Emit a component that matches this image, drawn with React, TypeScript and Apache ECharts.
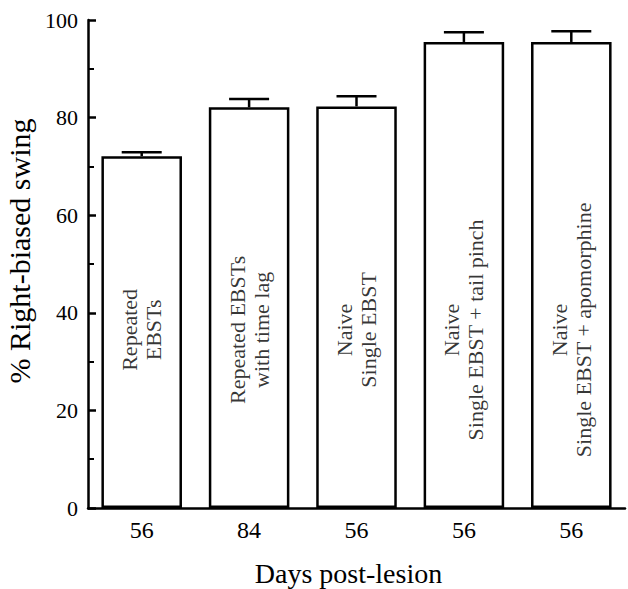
import React, { useEffect, useRef } from "react";
import * as echarts from "echarts";

const categories = ["56", "84", "56", "56", "56"];
const values = [72.1, 82.1, 82.3, 95.5, 95.5];
const errors = [0.8, 1.7, 2.1, 2.0, 2.2];
const barLabels = [
  "Repeated\nEBSTs",
  "Repeated EBSTs\nwith time lag",
  "Naive\nSingle EBST",
  "Naive\nSingle EBST + tail pinch",
  "Naive\nSingle EBST + apomorphine",
];
const labelCenterValue = 36.5;
const yTicks = [0, 20, 40, 60, 80, 100];

const FONT = "'Liberation Serif', 'Times New Roman', serif";

export default function App() {
  const ref = useRef<HTMLDivElement>(null);
  useEffect(() => {
    if (!ref.current) return;
    const chart = echarts.init(ref.current, null, { renderer: "svg" });
    chart.setOption({
      animation: false,
      backgroundColor: "#ffffff",
      grid: {
        left: 88,
        right: 3,
        top: 20,
        bottom: 81,
        containLabel: false,
        outerBoundsMode: "none",
      },
      xAxis: {
        type: "category",
        data: categories,
        name: "Days post-lesion",
        nameLocation: "middle",
        nameGap: 51,
        nameTextStyle: {
          fontFamily: FONT,
          fontSize: 28,
          color: "#000",
          padding: [0, 16, 0, 0],
        },
        axisLine: { show: true, lineStyle: { color: "#000", width: 2.5 } },
        axisTick: { show: false },
        axisLabel: { fontFamily: FONT, fontSize: 24, color: "#000", margin: 10 },
      },
      yAxis: {
        type: "value",
        min: yTicks[0],
        max: yTicks[yTicks.length - 1],
        interval: 20,
        name: "% Right-biased swing",
        nameLocation: "middle",
        nameGap: 40,
        nameTextStyle: {
          fontFamily: FONT,
          fontSize: 30,
          color: "#000",
          padding: [0, 0, 0, 26],
        },
        axisLine: { show: true, lineStyle: { color: "#000", width: 2.5 } },
        axisTick: { show: true, inside: true, length: 8, lineStyle: { color: "#000", width: 2.5 } },
        minorTick: { show: true, splitNumber: 2, length: 6, lineStyle: { color: "#000", width: 2 } },
        splitLine: { show: false },
        axisLabel: { fontFamily: FONT, fontSize: 22, color: "#000", margin: 10 },
      },
      series: [
        {
          type: "bar",
          data: values,
          barWidth: "75%",
          itemStyle: { color: "#fff", borderColor: "#000", borderWidth: 2.5 },
          z: 2,
        },
        {
          type: "custom",
          data: values.map((v, i) => [i, v, v + errors[i]]),
          z: 3,
          renderItem: (params: any, api: any) => {
            const x = api.value(0);
            const base = api.coord([x, api.value(1)]);
            const top = api.coord([x, api.value(2)]);
            const half = 20;
            return {
              type: "group",
              children: [
                {
                  type: "line",
                  shape: { x1: base[0], y1: base[1], x2: top[0], y2: top[1] },
                  style: { stroke: "#000", lineWidth: 2.5 },
                },
                {
                  type: "line",
                  shape: { x1: top[0] - half, y1: top[1], x2: top[0] + half, y2: top[1] },
                  style: { stroke: "#000", lineWidth: 2.5 },
                },
              ],
            };
          },
        },
        {
          type: "scatter",
          data: barLabels.map((t, i) => [i, labelCenterValue]),
          symbolSize: 0,
          z: 4,
          label: {
            show: true,
            position: "inside",
            rotate: 90,
            formatter: (p: any) => barLabels[p.dataIndex],
            fontFamily: FONT,
            fontSize: 22,
            lineHeight: 24,
            color: "#000",
            align: "center",
            verticalAlign: "middle",
          },
        },
      ],
    });
    return () => chart.dispose();
  }, []);
  return (
    <div
      ref={ref}
      style={{ position: "fixed", left: 0, top: 0, width: 628, height: 589 }}
    />
  );
}
